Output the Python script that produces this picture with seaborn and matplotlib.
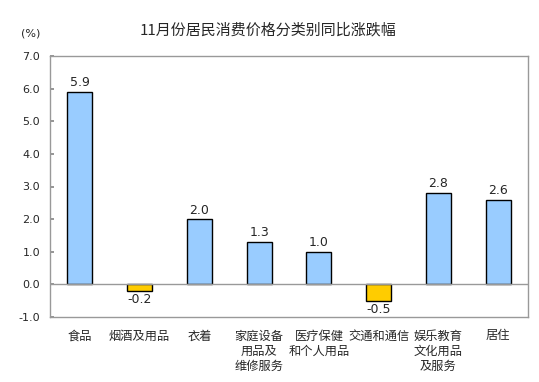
import matplotlib
matplotlib.use("Agg")
import matplotlib.pyplot as plt
import seaborn as sns

categories = ["食品", "烟酒及用品", "衣着", "家庭设备\n用品及\n维修服务", "医疗保健\n和个人用品",
              "交通和通信", "娱乐教育\n文化用品\n及服务", "居住"]
values = [5.9, -0.2, 2.0, 1.3, 1.0, -0.5, 2.8, 2.6]
yticks = [-1.0, 0.0, 1.0, 2.0, 3.0, 4.0, 5.0, 6.0, 7.0]
title = "11月份居民消费价格分类别同比涨跌幅"

sns.set_theme(style="white")
plt.rcParams['font.family'] = ['Noto Sans CJK SC', 'DejaVu Sans']

fig = plt.figure(figsize=(5.39, 3.82), dpi=100)
ax = fig.add_axes([50 / 539, (382 - 317) / 382, 478 / 539, (317 - 56) / 382])

colors = ["#99CCFF" if v >= 0 else "#FFCC00" for v in values]
sns.barplot(x=list(range(len(categories))), y=values, hue=list(range(len(categories))),
            palette=colors, legend=False, width=0.42, edgecolor="black", linewidth=1,
            ax=ax, saturation=1)

ax.set_xlim(-0.5, len(categories) - 0.5)
ax.set_ylim(-1.0, 7.0)
ax.set_yticks(yticks)
ax.set_yticklabels([f"{t:.1f}" for t in yticks], fontsize=8, family=['DejaVu Sans'])
ax.set_xticks(range(len(categories)))
ax.set_xticklabels(categories, fontsize=8.8, linespacing=1.2, va="top")
ax.tick_params(axis="x", length=0, pad=9)
ax.tick_params(axis="y", direction="in", length=3, color="#888888", pad=7, left=True)
ax.axhline(0, color="#999999", linewidth=1)
for s in ax.spines.values():
    s.set_color("#999999")
    s.set_linewidth(1)
ax.set_xlabel("")
ax.set_ylabel("")

for i, v in enumerate(values):
    if v >= 0:
        ax.text(i, v + 0.08, f"{v:.1f}", ha="center", va="bottom", fontsize=9, family=['DejaVu Sans'])
    else:
        ax.text(i, v - 0.06, f"{v:.1f}", ha="center", va="top", fontsize=9, family=['DejaVu Sans'])

fig.text(268 / 539, 1 - 30 / 382, title, ha="center", va="center", fontsize=10.8)
fig.text(31 / 539, 1 - 33 / 382, "(%)", ha="center", va="center", fontsize=8, family=['DejaVu Sans'])

fig.savefig("out.png", dpi=100)
